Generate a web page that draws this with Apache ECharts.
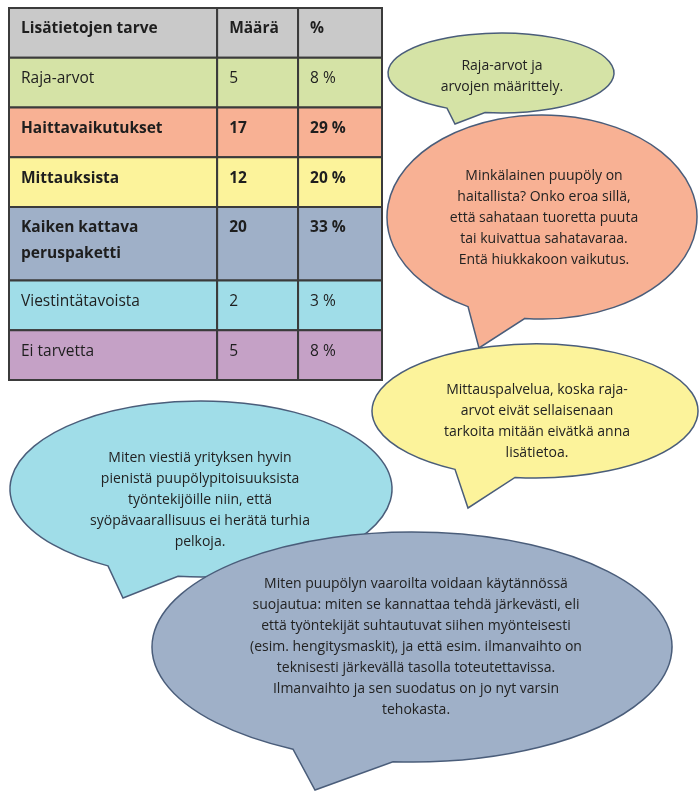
<!DOCTYPE html>
<html>
<head>
<meta charset="utf-8">
<script src="https://cdn.jsdelivr.net/npm/echarts/dist/echarts.min.js"></script>
<style>
  html, body { margin: 0; padding: 0; background: #fff; }
  #chart { width: 699px; height: 791px; }
</style>
</head>
<body>
<div id="chart"></div>
<script>
// 表格数据
const headers = ['Lisätietojen tarve', 'Määrä', '%'];
const categories = ['Raja-arvot', 'Haittavaikutukset', 'Mittauksista', 'Kaiken kattava\nperuspaketti', 'Viestintätavoista', 'Ei tarvetta'];
const counts = [5, 17, 12, 20, 2, 5];
const percents = [8, 29, 20, 33, 3, 8];

// 气泡里的评论（按参考图换行）
const comments = [
  ['Raja-arvot ja', 'arvojen määrittely.'],
  ['Minkälainen puupöly on', 'haitallista? Onko eroa sillä,', 'että sahataan tuoretta puuta', 'tai kuivattua sahatavaraa.', 'Entä hiukkakoon vaikutus.'],
  ['Mittauspalvelua, koska raja-', 'arvot eivät sellaisenaan', 'tarkoita mitään eivätkä anna', 'lisätietoa.'],
  ['Miten viestiä yrityksen hyvin', 'pienistä puupölypitoisuuksista', 'työntekijöille niin, että', 'syöpävaarallisuus ei herätä turhia', 'pelkoja.'],
  ['Miten puupölyn vaaroilta voidaan käytännössä', 'suojautua: miten se kannattaa tehdä järkevästi, eli', 'että työntekijät suhtautuvat siihen myönteisesti', '(esim. hengitysmaskit), ja että esim. ilmanvaihto on', 'teknisesti järkevällä tasolla toteutettavissa.', 'Ilmanvaihto ja sen suodatus on jo nyt varsin', 'tehokasta.']
];

// 样式
const rowColors = ['#c9c9c9', '#d5e3a6', '#f8b194', '#fcf39b', '#9fb0c8', '#a0dde8', '#c5a1c6'];
const boldRows = [true, false, true, true, true, false, false];
const colEdges = [0, 0.558, 0.775, 1];
const fontFamily = '"Open Sans", "Noto Sans", sans-serif';

// 行高：两行文字的行更高
const rowLines = [1].concat(categories.map(c => c.split('\n').length));
const rowEdges = [0];
rowLines.forEach(n => rowEdges.push(rowEdges[rowEdges.length - 1] + 50 + (n - 1) * 24));

function renderRow(params, api) {
  const r = api.value(0);
  const cells = r === 0 ? headers : [categories[r - 1], counts[r - 1], percents[r - 1] + ' %'];
  const children = [];
  for (let c = 0; c < 3; c++) {
    const p0 = api.coord([colEdges[c], rowEdges[r]]);
    const p1 = api.coord([colEdges[c + 1], rowEdges[r + 1]]);
    children.push({
      type: 'rect',
      shape: { x: p0[0], y: p0[1], width: p1[0] - p0[0], height: p1[1] - p0[1] },
      style: { fill: rowColors[r], stroke: '#3b3b3b', lineWidth: 2 }
    });
    children.push({
      type: 'text',
      x: p0[0] + 12,
      y: p0[1] + 8,
      style: {
        text: String(cells[c]),
        fontFamily: fontFamily,
        fontSize: 15.5,
        fontWeight: boldRows[r] ? 'bold' : 'normal',
        lineHeight: 26,
        verticalAlign: 'top',
        fill: '#1e1e1e'
      }
    });
  }
  return { type: 'group', children: children };
}

// 气泡布局
const bubbles = [
  { cx: 501, cy: 73, rx: 113, ry: 40, base: [447, 485], tip: [455, 124], fill: '#d5e3a6', tx: 502, ty: 77 },
  { cx: 542, cy: 217, rx: 155, ry: 102, base: [468, 525], tip: [479, 348], fill: '#f8b194', tx: 544, ty: 218 },
  { cx: 535, cy: 411, rx: 163, ry: 67, base: [455, 515], tip: [468, 508], fill: '#fcf39b', tx: 537, ty: 422 },
  { cx: 201, cy: 489, rx: 191, ry: 88, base: [108, 178], tip: [123, 598], fill: '#a0dde8', tx: 200, ty: 500 },
  { cx: 412, cy: 647, rx: 260, ry: 115, base: [293, 393], tip: [315, 790], fill: '#9fb0c8', tx: 416, ty: 647 }
];

function bubblePath(b) {
  const yOn = x => b.cy + b.ry * Math.sqrt(1 - Math.pow((x - b.cx) / b.rx, 2));
  const ax = b.base[0], bx = b.base[1];
  return 'M' + ax + ' ' + yOn(ax) + ' A' + b.rx + ' ' + b.ry + ' 0 1 1 ' + bx + ' ' + yOn(bx) +
    ' L' + b.tip[0] + ' ' + b.tip[1] + ' Z';
}

function renderBubble(params, api) {
  const i = api.value(0);
  const b = bubbles[i];
  return {
    type: 'group',
    children: [
      {
        type: 'path',
        shape: { pathData: bubblePath(b) },
        style: { fill: b.fill, stroke: '#4a5d7a', lineWidth: 1.5 }
      },
      {
        type: 'text',
        x: b.tx,
        y: b.ty,
        style: {
          text: comments[i].join('\n'),
          fontFamily: fontFamily,
          fontSize: 14,
          lineHeight: 21,
          align: 'center',
          verticalAlign: 'middle',
          fill: '#222'
        }
      }
    ]
  };
}

const chart = echarts.init(document.getElementById('chart'));
chart.setOption({
  backgroundColor: '#fff',
  animation: false,
  grid: { left: 9, top: 8, width: 373, height: 372 },
  xAxis: { type: 'value', min: 0, max: 1, show: false },
  yAxis: { type: 'value', min: 0, max: rowEdges[rowEdges.length - 1], inverse: true, show: false },
  series: [{
    type: 'custom',
    renderItem: renderRow,
    clip: false,
    data: rowLines.map((n, i) => [i])
  }, {
    type: 'custom',
    coordinateSystem: 'none',
    renderItem: renderBubble,
    data: comments.map((c, i) => [i])
  }]
});
</script>
</body>
</html>
